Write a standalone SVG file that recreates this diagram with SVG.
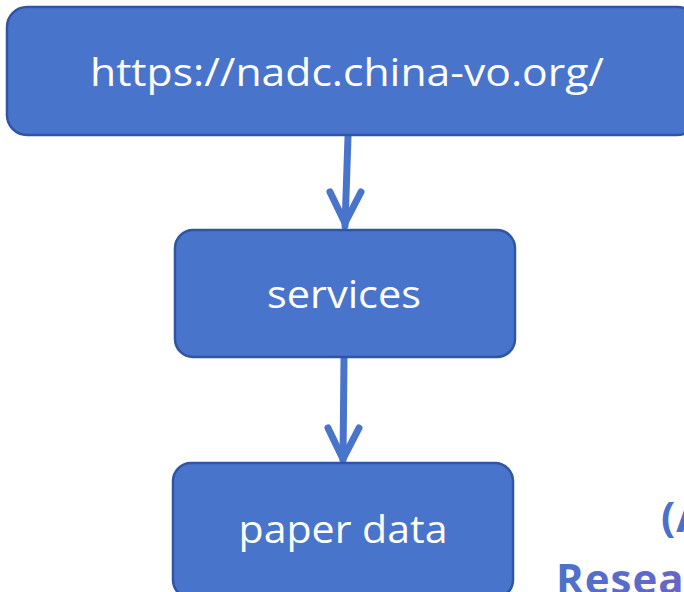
<svg xmlns="http://www.w3.org/2000/svg" width="684" height="592" viewBox="0 0 684 592">
<defs>
<style>
.box{fill:#4874CB;stroke:#2F55A4;stroke-width:2.5}
.lbl{font-family:"Open Sans","Noto Sans",sans-serif;fill:#fff;text-anchor:middle;font-size:39px}
.conn{stroke:#4874CB;stroke-width:7;fill:none;stroke-linecap:round;stroke-linejoin:round}
.bold{font-family:"Open Sans","Noto Sans",sans-serif;font-weight:bold;font-size:42px;letter-spacing:1px}
</style>
<linearGradient id="g" x1="0" y1="0" x2="1" y2="0">
<stop offset="0" stop-color="#4A72CC"/>
<stop offset="1" stop-color="#7A5CC4"/>
</linearGradient>
</defs>
<g id="connectors">
<path class="conn" d="M348 137 L345 226"/>
<path class="conn" d="M330 192 L345 223 L361 192"/>
<path class="conn" d="M344 359 L343 460"/>
<path class="conn" d="M328 428 L343 459 L359 428"/>
</g>
<g id="n1">
<rect class="box" x="7" y="7" width="690" height="128" rx="20"/>
<text class="lbl" x="347" y="86" textLength="514" lengthAdjust="spacingAndGlyphs">https://nadc.china-vo.org/</text>
</g>
<g id="n2">
<rect class="box" x="175" y="230" width="340" height="127" rx="18"/>
<text class="lbl" x="344" y="308" textLength="154" lengthAdjust="spacingAndGlyphs">services</text>
</g>
<g id="n3">
<rect class="box" x="173" y="463" width="340" height="135" rx="18"/>
<text class="lbl" x="343" y="543" textLength="209" lengthAdjust="spacingAndGlyphs">paper data</text>
</g>
<text class="bold" x="661" y="532" fill="#4A6FCC">(A</text>
<text class="bold" x="556" y="594" fill="url(#g)">Research</text>
</svg>
